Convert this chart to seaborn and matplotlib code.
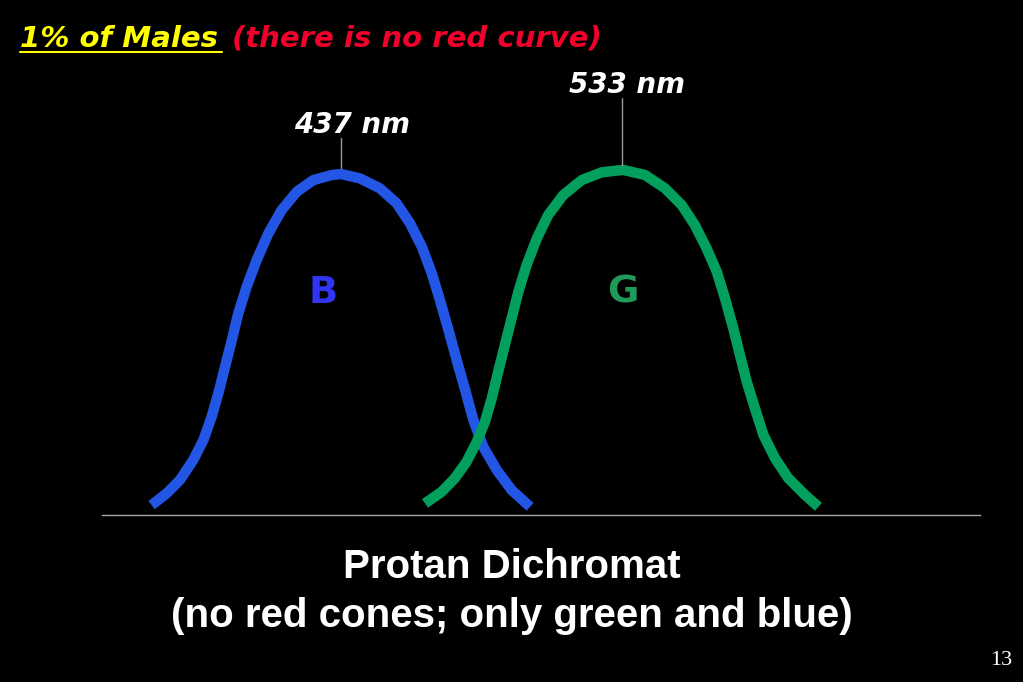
import matplotlib
matplotlib.use('Agg')
import matplotlib.pyplot as plt
from matplotlib.lines import Line2D
import pandas as pd
import seaborn as sns

# cone sensitivity curves (wavelength nm, relative sensitivity)
blue_nm = [372.3, 377.5, 382.0, 386.5, 390.0, 392.8, 395.1, 397.4, 399.7, 401.9,
           404.8, 408.2, 412.2, 416.7, 421.9, 427.5, 433.8, 437.0,
           443.5, 450.3, 456.0, 460.6, 464.6, 468.0, 470.8, 473.7, 476.5,
           479.4, 482.2, 485.6, 490.2, 495.3, 501.6]
blue_sens = [0.029, 0.064, 0.103, 0.161, 0.220, 0.288, 0.357, 0.435, 0.513, 0.591,
             0.670, 0.748, 0.826, 0.894, 0.948, 0.982, 0.997, 1.000,
             0.987, 0.958, 0.914, 0.855, 0.787, 0.709, 0.630, 0.543, 0.455,
             0.367, 0.279, 0.200, 0.132, 0.073, 0.024]

green_nm = [465.7, 471.4, 475.9, 479.9, 483.4, 486.2, 488.5, 490.7, 493.0, 495.3,
            497.6, 500.4, 503.9, 507.8, 512.9, 519.2, 526.1, 533.4,
            540.9, 547.7, 553.4, 557.9, 561.9, 565.4, 568.2, 571.0, 573.3,
            575.6, 578.4, 581.3, 585.3, 589.8, 595.5, 600.1]
green_sens = [0.034, 0.068, 0.108, 0.156, 0.215, 0.274, 0.342, 0.420, 0.499, 0.577,
              0.655, 0.733, 0.811, 0.880, 0.938, 0.982, 1.005, 1.012,
              0.997, 0.958, 0.909, 0.850, 0.782, 0.713, 0.635, 0.548, 0.469,
              0.391, 0.313, 0.235, 0.166, 0.108, 0.059, 0.024]

cone_names = ['B', 'G']
peak_nm = [437, 533]
peak_labels = ['437 nm', '533 nm']

curve_colors = {'B': '#2356e4', 'G': '#02a05c'}
letter_colors = {'B': '#2f35f2', 'G': '#1f9a58'}

curves = pd.DataFrame({
    'nm': blue_nm + green_nm,
    'sens': blue_sens + green_sens,
    'cone': ['B'] * len(blue_nm) + ['G'] * len(green_nm),
})

sns.set_style('white', {'axes.facecolor': 'black', 'figure.facecolor': 'black'})
plt.rcParams['font.family'] = ['DejaVu Sans']

fig = plt.figure(figsize=(10.23, 6.82), dpi=100)
fig.patch.set_facecolor('black')
ax = fig.add_axes([102 / 1023, 167 / 682, 878 / 1023, 375.1 / 682])
ax.set_facecolor('black')

sns.lineplot(data=curves, x='nm', y='sens', hue='cone', palette=curve_colors,
             linewidth=7.5, legend=False, ax=ax, sort=False, estimator=None,
             solid_capstyle='butt', solid_joinstyle='round', clip_on=False)

ax.set_xlim(355.35, 655.3)
ax.set_ylim(0, 1.1)
ax.set_xticks([])
ax.set_yticks([])
ax.set_xlabel('')
ax.set_ylabel('')
for side in ['top', 'left', 'right']:
    ax.spines[side].set_visible(False)
ax.spines['bottom'].set_color('#a6a6a6')
ax.spines['bottom'].set_linewidth(1.0)

# leader lines and peak labels
lead_top = [1.106, 1.223]
lead_bot = [1.018, 1.026]
label_y = [1.120, 1.238]
label_dx = [3.9, 1.7]
for i in range(2):
    ax.plot([peak_nm[i], peak_nm[i]], [lead_bot[i], lead_top[i]], color='#9a9a9a',
            lw=1.0, clip_on=False)
    ax.text(peak_nm[i] + label_dx[i], label_y[i], peak_labels[i], color='white',
            fontsize=20, fontweight='bold', fontstyle='italic', ha='center',
            va='baseline', family='DejaVu Sans')

# cone letters
letter_x = [431.0, 533.2]
for name, lx in zip(cone_names, letter_x):
    ax.text(lx, 0.622, name, color=letter_colors[name], fontsize=27.5,
            fontweight='bold', ha='center', va='baseline', family='DejaVu Sans')

# slide title
fig.text(20 / 1023, 1 - 47 / 682, '1% of Males', color='#ffff00', fontsize=21,
         fontweight='bold', fontstyle='italic', ha='left', va='baseline')
fig.add_artist(Line2D([20 / 1023, 222 / 1023], [1 - 52 / 682, 1 - 52 / 682],
                      color='#ffff00', lw=1.5))
fig.text(232 / 1023, 1 - 47 / 682, '(there is no red curve)', color='#f2002c',
         fontsize=21, fontweight='bold', fontstyle='italic', ha='left', va='baseline')

# caption
fig.text(512 / 1023, 1 - 578 / 682, 'Protan Dichromat', color='white', fontsize=29,
         fontweight='bold', ha='center', va='baseline', family='Liberation Sans')
fig.text(512 / 1023, 1 - 627 / 682, '(no red cones; only green and blue)', color='white',
         fontsize=29, fontweight='bold', ha='center', va='baseline',
         family='Liberation Sans')

fig.text(1001 / 1023, 1 - 665 / 682, '13', color='white', fontsize=16,
         ha='center', va='baseline', family='Liberation Serif')

fig.savefig('out.png', dpi=100, facecolor='black')
